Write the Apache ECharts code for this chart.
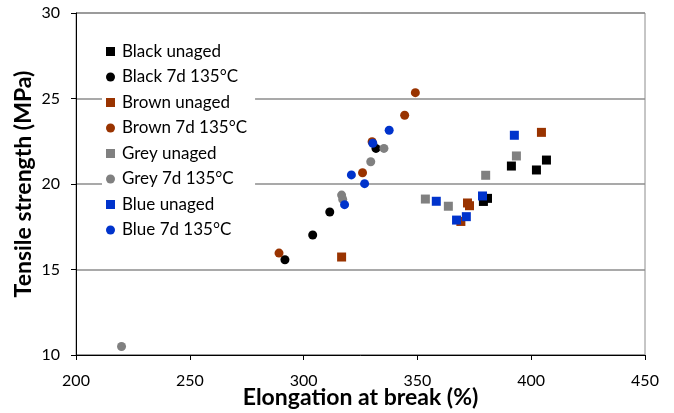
<!DOCTYPE html>
<html>
<head>
<meta charset="utf-8">
<script src="https://cdn.jsdelivr.net/npm/echarts@6/dist/echarts.min.js"></script>
<style>html,body{margin:0;padding:0;background:#fff}#c{width:674px;height:413px}</style>
</head>
<body>
<div id="c"></div>
<script>
const xTicks = [200, 250, 300, 350, 400, 450];
const yTicks = [10, 15, 20, 25, 30];
const seriesNames = ['Black unaged','Black 7d 135°C','Brown unaged','Brown 7d 135°C','Grey unaged','Grey 7d 135°C','Blue unaged','Blue 7d 135°C'];
const blackUnaged = [[379.0,18.98],[380.8,19.16],[391.3,21.05],[402.3,20.82],[406.7,21.40]];
const black7d = [[291.8,15.57],[304.0,17.02],[311.5,18.36],[331.8,22.08]];
const brownUnaged = [[316.7,15.73],[369.1,17.81],[372.0,18.89],[372.9,18.73],[404.5,23.02]];
const brown7d = [[289.2,15.96],[325.9,20.66],[330.1,22.47],[344.4,24.02],[349.1,25.34]];
const greyUnaged = [[353.5,19.12],[363.6,18.70],[380.0,20.51],[393.5,21.64]];
const grey7d = [[220.0,10.50],[316.7,19.35],[317.2,19.10],[329.5,21.30],[335.3,22.08]];
const blueUnaged = [[358.3,18.99],[367.2,17.89],[371.5,18.09],[378.6,19.30],[392.6,22.85]];
const blue7d = [[318.0,18.79],[321.0,20.53],[326.8,20.02],[330.4,22.38],[337.6,23.14]];

const dataSets = [blackUnaged, black7d, brownUnaged, brown7d, greyUnaged, grey7d, blueUnaged, blue7d];
const colors = ['#000000','#000000','#993300','#993300','#808080','#808080','#0033cc','#0033cc'];
const shapes = ['rect','circle','rect','circle','rect','circle','rect','circle'];
const FONT = 'Lato';

const chart = echarts.init(document.getElementById('c'), null, {renderer:'canvas'});
chart.setOption({
  animation: false,
  backgroundColor: '#fff',
  grid: {left: 76, right: 29, top: 13, bottom: 58, containLabel: false, outerBoundsMode: 'none', show: true, borderColor: '#8c8c8c', borderWidth: 1, backgroundColor: 'transparent'},
  legend: {
    data: seriesNames.map((n,i)=>({name:n, icon: shapes[i]})),
    orient: 'vertical', left: 102, top: 41,
    itemWidth: 9, itemHeight: 9, itemGap: 8.5,
    backgroundColor: '#fff', padding: [2, 8, 2, 4],
    textStyle: {fontFamily: FONT, fontSize: 17, color: '#000', padding: [0,0,0,2]}
  },
  xAxis: {
    type: 'value', min: 200, max: 450, interval: 50,
    axisLine: {show: true, lineStyle: {color: '#000', width: 1}},
    axisTick: {show: true, length: 5, lineStyle: {color: '#000'}},
    splitLine: {show: false},
    axisLabel: {fontFamily: FONT, fontSize: 16, color: '#000', margin: 18, formatter: v => xTicks.includes(v) ? String(v) : ''},
    name: 'Elongation at break (%)', nameLocation: 'middle', nameGap: 31, nameMoveOverlap: false,
    nameTextStyle: {fontFamily: FONT, fontSize: 23, fontWeight: 'bold', color: '#000'}
  },
  yAxis: {
    type: 'value', min: 10, max: 30, interval: 5,
    axisLine: {show: true, lineStyle: {color: '#000', width: 1}},
    axisTick: {show: true, length: 5, lineStyle: {color: '#000'}},
    splitLine: {show: true, lineStyle: {color: '#8c8c8c', width: 1.5}},
    axisLabel: {fontFamily: FONT, fontSize: 16, color: '#000', margin: 16, formatter: v => yTicks.includes(v) ? String(v) : ''},
    name: 'Tensile strength (MPa)', nameLocation: 'middle', nameGap: 41, nameMoveOverlap: false,
    nameTextStyle: {fontFamily: FONT, fontSize: 23, fontWeight: 'bold', color: '#000'}
  },
  series: seriesNames.map((n,i)=>({
    name: n, type: 'scatter', data: dataSets[i],
    symbol: shapes[i], symbolSize: 9,
    itemStyle: {color: colors[i], opacity: 1}
  }))
});
</script>
</body>
</html>
